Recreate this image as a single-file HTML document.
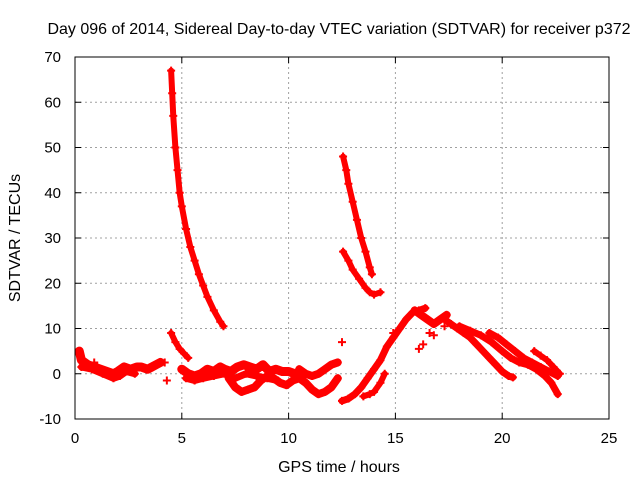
<!DOCTYPE html>
<html><head><meta charset="utf-8"><style>
body{margin:0;background:#fff}
svg{display:block;font-family:"Liberation Sans",sans-serif}
</style></head><body>
<svg id="chart" width="640" height="480">
<rect width="640" height="480" fill="#fff"/>
<text x="339" y="34" font-size="16" text-anchor="middle">Day 096 of 2014, Sidereal Day-to-day VTEC variation (SDTVAR) for receiver p372</text>
<text x="339" y="472" font-size="16" text-anchor="middle">GPS time / hours</text>
<text transform="translate(20,238) rotate(-90)" font-size="16" text-anchor="middle">SDTVAR / TECUs</text>
<g id="grid"></g>
<g id="marks"></g>
<rect x="75" y="57" width="534" height="362" fill="none" stroke="#000" stroke-width="1"/>
<g id="ticks"></g>
</svg>
<script>
const xTicks=[0,5,10,15,20,25];
const yTicks=[-10,0,10,20,30,40,50,60,70];
const track1=[[4.5,67],[4.55,62],[4.6,57],[4.7,50],[4.8,45],[4.9,40],[5.0,37],[5.2,32],[5.4,28],[5.6,25],[5.8,22],[6.0,19.5],[6.2,17],[6.5,14],[6.8,11.5],[6.95,10.5]];
const track2=[[12.55,48],[12.7,45],[12.8,42],[13.0,38],[13.2,34],[13.4,30],[13.6,27],[13.8,23.5],[13.9,22]];
const track3=[[12.55,27],[12.8,25],[13.0,23],[13.3,21],[13.6,19],[13.8,18],[14.0,17.5],[14.3,18]];
const track4=[[4.5,9],[4.7,7],[4.9,5.5],[5.1,4.5],[5.3,3.5]];
const track5=[[0.2,5],[0.3,3],[0.6,2],[0.9,1.5],[1.2,1],[1.5,0.5],[1.8,0],[2.0,0.5],[2.3,1.5],[2.6,1],[2.9,1.5],[3.1,1.5],[3.4,1],[3.6,1.5],[3.8,2],[4.0,2.5]];
const track5b=[[0.3,1.5],[0.8,1],[1.3,0],[1.8,-1],[2.1,-0.5],[2.4,0.5],[2.8,0]];
const track6=[[5.0,1],[5.3,0],[5.6,-0.5],[5.9,0],[6.2,1],[6.5,0.5],[6.8,1.5],[7.0,1],[7.3,0.5],[7.6,1.5],[7.9,2],[8.2,1.5],[8.5,1],[8.8,2],[9.1,0.5],[9.4,1],[9.7,0.5],[10.0,0.5],[10.3,0],[10.6,-0.5]];
const track6b=[[5.2,-1],[5.6,-1.5],[6.0,-1],[6.5,-0.5],[7.0,0],[7.5,-1],[8.0,0],[8.5,-0.5],[9.0,-1],[9.5,-1.5]];
const track7=[[7.2,-1],[7.5,-3],[7.8,-4],[8.1,-3.5],[8.4,-3],[8.7,-1.5],[9.0,-0.5],[9.3,-1],[9.6,-2],[9.9,-2.5],[10.2,-1.5],[10.5,-1],[10.8,-2],[11.1,-3.5],[11.4,-4.5],[11.7,-4],[12.0,-3],[12.3,-1]];
const track8=[[10.5,1],[10.8,0],[11.1,-0.5],[11.4,0],[11.7,1],[12.0,2],[12.3,2.5]];
const track9=[[12.5,-6],[12.8,-5.5],[13.1,-4.5],[13.4,-3],[13.7,-1],[14.0,1],[14.3,3],[14.6,6],[14.9,8],[15.2,10],[15.5,12],[15.8,13.5],[16.1,14],[16.4,14.5]];
const track10=[[13.5,-5],[13.8,-4.5],[14.0,-4],[14.3,-2],[14.5,0]];
const track11=[[17.3,12],[17.6,11],[17.9,10],[18.2,9],[18.5,8],[18.8,6.5],[19.1,5],[19.4,3.5],[19.7,2],[20.0,0.5],[20.3,-0.5],[20.5,-0.8]];
const track12=[[18.0,10.5],[18.5,9.5],[19.0,8.5],[19.5,7],[20.0,5],[20.4,3.5],[20.8,2.5],[21.2,2],[21.6,1],[22.0,-0.5],[22.3,-2],[22.6,-4.5]];
const track13=[[19.4,9],[19.8,8],[20.2,6.5],[20.6,5],[21.0,3.5],[21.4,2.5],[21.8,1.5],[22.2,0.5],[22.6,-0.5]];
const track14=[[21.5,5],[21.8,4],[22.1,3],[22.4,1.5],[22.7,0]];
const track15=[[15.9,14],[16.2,13],[16.5,12],[16.8,11],[17.1,12],[17.4,13]];
const isolated=[[4.3,-1.5],[4.2,2.5],[12.5,7],[16.1,5.5],[16.3,6.5],[16.6,9],[16.8,8.5],[14.9,9],[17.3,10.5],[0.9,2.5]];
const tracks=[track1,track2,track3,track4,track5,track5b,track6,track6b,track7,track8,track9,track10,track11,track12,track13,track14,track15];
const widths=[6,6,6,6,9,7,9,7,8,8,7,6,7,7,7,6,8];

const NS='http://www.w3.org/2000/svg';
const xS=t=>75+t*(534/25);
const yS=v=>419-(v+10)*(362/80);
const grid=document.getElementById('grid'),ticks=document.getElementById('ticks'),marks=document.getElementById('marks');
function mk(tag,attrs,parent){const e=document.createElementNS(NS,tag);for(const k in attrs)e.setAttribute(k,attrs[k]);parent.appendChild(e);return e;}
xTicks.forEach(t=>{
  const x=xS(t);
  if(t>0&&t<25){const g=mk('line',{x1:x,x2:x,y1:57,y2:419,stroke:'#a0a0a0','stroke-dasharray':'2,3'},grid);
  
  }
  mk('line',{x1:x,x2:x,y1:419,y2:413,stroke:'#000'},ticks);
  mk('line',{x1:x,x2:x,y1:57,y2:63,stroke:'#000'},ticks);
  const l=mk('text',{x:x,y:443,'font-size':15,'text-anchor':'middle'},ticks);l.textContent=t;
  
  
});
yTicks.forEach(v=>{
  const y=yS(v);
  if(v>-10&&v<70){const g=mk('line',{x1:75,x2:609,y1:y,y2:y,stroke:'#a0a0a0','stroke-dasharray':'2,3'},grid);
  
  }
  mk('line',{x1:75,x2:81,y1:y,y2:y,stroke:'#000'},ticks);
  mk('line',{x1:603,x2:609,y1:y,y2:y,stroke:'#000'},ticks);
  const l=mk('text',{x:61,y:y+5,'font-size':15,'text-anchor':'end'},ticks);l.textContent=v;
  
  
});
function plus(t,v){
  const x=xS(t),y=yS(v);
  const p=mk('path',{d:`M${x-4},${y}h8M${x},${y-4}v8`,stroke:'#f00','stroke-width':2},marks);
  
  
}
tracks.forEach((tr,i)=>{
  const pl=mk('polyline',{points:tr.map(p=>xS(p[0])+','+yS(p[1])).join(' '),fill:'none',stroke:'#f00','stroke-width':widths[i],'stroke-linejoin':'round','stroke-linecap':'round'},marks);
  
  
  tr.forEach(p=>plus(p[0],p[1]));
});
isolated.forEach(p=>plus(p[0],p[1]));
</script>
</body></html>
